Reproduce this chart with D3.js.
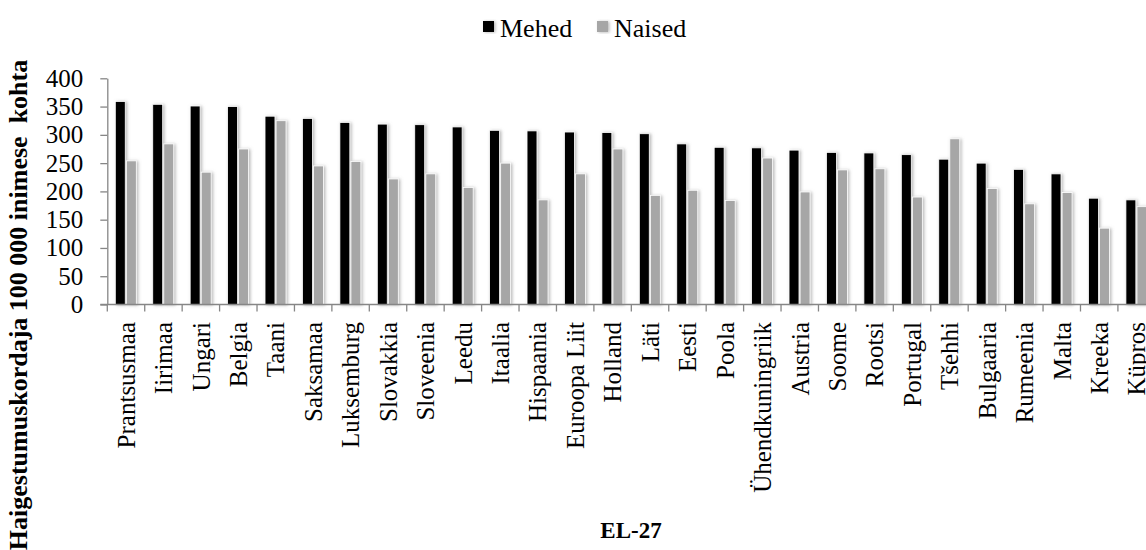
<!DOCTYPE html>
<html>
<head>
<meta charset="utf-8">
<script src="https://cdn.jsdelivr.net/npm/d3@7/dist/d3.min.js"></script>
<style>
  html, body { margin: 0; padding: 0; background: #fff; }
</style>
</head>
<body>
<svg id="chart" width="1146" height="550"></svg>
<script>
// data
var categories = ['Prantsusmaa', 'Iirimaa', 'Ungari', 'Belgia', 'Taani', 'Saksamaa', 'Luksemburg',
  'Slovakkia', 'Sloveenia', 'Leedu', 'Itaalia', 'Hispaania', 'Euroopa Liit', 'Holland', 'Läti',
  'Eesti', 'Poola', 'Ühendkuningriik', 'Austria', 'Soome', 'Rootsi', 'Portugal', 'Tšehhi',
  'Bulgaaria', 'Rumeenia', 'Malta', 'Kreeka', 'Küpros'];
var mehed = [359, 354, 351, 350, 333, 329, 322, 319, 318, 314, 308, 307, 305, 304, 302,
  284, 278, 277, 273, 269, 268, 265, 257, 250, 239, 231, 188, 185];
var naised = [254, 284, 234, 275, 325, 245, 253, 222, 231, 207, 250, 185, 231, 275, 193,
  202, 184, 259, 199, 238, 240, 190, 293, 205, 178, 198, 135, 173];
var seriesNames = ['Mehed', 'Naised'];
var seriesColors = ['#000000', '#a6a6a6'];
var yTicks = [0, 50, 100, 150, 200, 250, 300, 350, 400];

var serif = '"Liberation Serif", "Times New Roman", Times, serif';
var svg = d3.select('#chart');
var axisColor = '#868686';

// soft shadow behind the bars
var defs = svg.append('defs');
var filt = defs.append('filter')
  .attr('id', 'barShadow')
  .attr('x', '-50%').attr('y', '-10%')
  .attr('width', '200%').attr('height', '120%');
filt.append('feDropShadow')
  .attr('dx', 1.5).attr('dy', 0.5)
  .attr('stdDeviation', 1.4)
  .attr('flood-color', '#7f7f7f')
  .attr('flood-opacity', 0.55);

var left = 107.3, step = 37.43;
var x0 = d3.scaleBand()
  .domain(categories)
  .range([left, left + step * categories.length])
  .padding(0);
var x1 = d3.scaleBand()
  .domain(seriesNames)
  .range([8, 29])
  .paddingInner(0.1);
var y = d3.scaleLinear().domain([0, 400]).range([304.5, 78.3]);

var rows = categories.map(function(c, i) {
  return {cat: c, values: [mehed[i], naised[i]]};
});

// bars
var group = svg.append('g').selectAll('g.cat')
  .data(rows)
  .join('g')
  .attr('class', 'cat')
  .attr('transform', d => 'translate(' + x0(d.cat) + ',0)');
group.selectAll('rect')
  .data(d => d.values.map((v, k) => ({name: seriesNames[k], value: v, k: k})))
  .join('rect')
  .attr('x', d => x1(d.name))
  .attr('width', x1.bandwidth())
  .attr('y', d => y(d.value))
  .attr('height', d => y(0) - y(d.value))
  .attr('fill', d => seriesColors[d.k])
  .attr('stroke', '#ffffff')
  .attr('stroke-width', 0.8)
  .attr('filter', 'url(#barShadow)');

// y axis
var yAxis = svg.append('g')
  .attr('transform', 'translate(' + left + ',0)')
  .call(d3.axisLeft(y).tickValues(yTicks).tickSize(7).tickSizeOuter(0).tickPadding(17));
yAxis.attr('font-family', null).attr('font-size', null);
yAxis.selectAll('path, line').attr('stroke', axisColor).attr('stroke-width', 1.3);
yAxis.selectAll('text')
  .style('font-family', serif)
  .style('font-size', '25px')
  .attr('fill', '#000');

// x axis: line + ticks at category boundaries
var xAxis = svg.append('g');
xAxis.append('line')
  .attr('x1', left - 7).attr('x2', x0.range()[1])
  .attr('y1', y(0)).attr('y2', y(0))
  .attr('stroke', axisColor).attr('stroke-width', 1.3);
xAxis.selectAll('line.tick')
  .data(categories)
  .join('line')
  .attr('class', 'tick')
  .attr('x1', d => x0(d)).attr('x2', d => x0(d))
  .attr('y1', y(0)).attr('y2', y(0) + 7)
  .attr('stroke', axisColor).attr('stroke-width', 1.3);
xAxis.selectAll('text')
  .data(categories)
  .join('text')
  .attr('transform', d => 'translate(' + (x0(d) + x0.bandwidth() / 2) + ',322) rotate(-90)')
  .attr('dy', '0.35em')
  .attr('text-anchor', 'end')
  .style('font-family', serif)
  .style('font-size', '25px')
  .text(d => d);

// axis titles
svg.append('text')
  .attr('transform', 'translate(27,305) rotate(-90)')
  .attr('text-anchor', 'middle')
  .style('font-family', serif)
  .style('font-size', '26px')
  .style('font-weight', 'bold')
  .style('white-space', 'pre')
  .text('Haigestumuskordaja 100 000 inimese  kohta');

svg.append('text')
  .attr('x', 631).attr('y', 538)
  .attr('text-anchor', 'middle')
  .style('font-family', serif)
  .style('font-size', '23px')
  .style('font-weight', 'bold')
  .text('EL-27');

// legend
var legendX = [483, 597];
var legend = svg.append('g').selectAll('g')
  .data(seriesNames)
  .join('g')
  .attr('transform', (d, i) => 'translate(' + legendX[i] + ',0)');
legend.append('rect')
  .attr('x', 0).attr('y', 21)
  .attr('width', 11).attr('height', 11)
  .attr('fill', (d, i) => seriesColors[i])
  .attr('filter', 'url(#barShadow)');
legend.append('text')
  .attr('x', 17).attr('y', 36.5)
  .style('font-family', serif)
  .style('font-size', '26px')
  .text(d => d);
</script>
</body>
</html>
